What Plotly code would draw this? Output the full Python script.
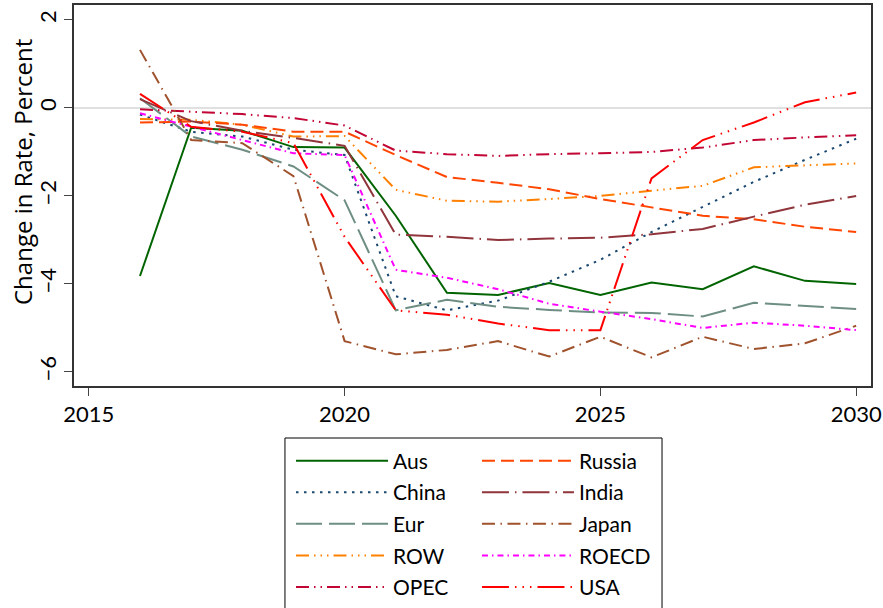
import plotly.graph_objects as go

years = list(range(2016, 2031))

aus    = [-3.82, -0.45, -0.52, -0.89, -0.90, -2.45, -4.20, -4.25, -3.98, -4.25, -3.97, -4.12, -3.60, -3.93, -4.00]
china  = [-0.15, -0.54, -0.65, -0.95, -1.07, -4.28, -4.60, -4.38, -3.95, -3.45, -2.82, -2.25, -1.68, -1.18, -0.70]
eur    = [0.22, -0.65, -0.95, -1.33, -2.10, -4.60, -4.36, -4.52, -4.59, -4.65, -4.66, -4.74, -4.43, -4.50, -4.57]
row    = [-0.25, -0.27, -0.38, -0.65, -0.64, -1.86, -2.11, -2.13, -2.07, -2.00, -1.88, -1.77, -1.35, -1.30, -1.26]
opec   = [-0.03, -0.08, -0.14, -0.23, -0.40, -0.97, -1.05, -1.09, -1.05, -1.03, -1.00, -0.90, -0.73, -0.67, -0.62]
russia = [-0.33, -0.31, -0.38, -0.54, -0.54, -1.07, -1.57, -1.70, -1.85, -2.07, -2.26, -2.45, -2.53, -2.70, -2.82]
india  = [0.20, -0.30, -0.52, -0.68, -0.86, -2.88, -2.93, -3.00, -2.97, -2.95, -2.87, -2.75, -2.47, -2.20, -2.00]
japan  = [1.32, -0.73, -0.80, -1.55, -5.30, -5.60, -5.50, -5.30, -5.65, -5.20, -5.67, -5.20, -5.48, -5.35, -4.95]
roecd  = [-0.12, -0.43, -0.73, -1.03, -1.07, -3.68, -3.86, -4.12, -4.45, -4.63, -4.80, -5.00, -4.88, -4.95, -5.05]
usa    = [0.32, -0.43, -0.54, -0.80, -2.93, -4.60, -4.70, -4.90, -5.05, -5.05, -1.60, -0.73, -0.33, 0.13, 0.35]

x_ticks = [2015, 2020, 2025, 2030]
y_ticks = [-6, -4, -2, 0, 2]
y_title = "Change in Rate, Percent"

# (name, values, colour, dash, legend column)
series = [
    ("Aus", aus, "#006400", "solid", "legend"),
    ("China", china, "#1a476f", "2.5px,5.5px", "legend"),
    ("Eur", eur, "#6e8e84", "26px,7px", "legend"),
    ("ROW", row, "#ff8000", "13px,5px,1.5px,5px,1.5px,5px,1.5px,5px", "legend"),
    ("OPEC", opec, "#c10534", "13px,5px,1.5px,5px,1.5px,5px", "legend"),
    ("Russia", russia, "#ff4500", "13px,6px", "legend2"),
    ("India", india, "#90353b", "27px,6px,1.5px,6px", "legend2"),
    ("Japan", japan, "#a0522d", "13px,5.5px,1.5px,5.5px", "legend2"),
    ("ROECD", roecd, "#ff00ff", "6px,4px,1.5px,4px", "legend2"),
    ("USA", usa, "#ff0000", "27px,6px,1.5px,6px,1.5px,6px,1.5px,6px", "legend2"),
]

fig = go.Figure()
for name, vals, color, dash, leg in series:
    fig.add_trace(go.Scatter(x=years, y=vals, name=name, mode="lines",
                             legend=leg, legendgroup=name,
                             line=dict(color=color, width=2, dash=dash)))

font_family = "Lato, 'Open Sans', sans-serif"

# plot area in pixels: x 74..871, y 5..386
leg_common = dict(
    orientation="v", yanchor="top", y=-0.1431, xanchor="left",
    borderwidth=0, bgcolor="rgba(0,0,0,0)",
    itemwidth=92, tracegroupgap=1.3, traceorder="grouped",
    font=dict(size=21, family=font_family, color="black"),
)

fig.update_layout(
    width=883, height=608,
    margin=dict(l=74, r=12, t=5, b=222, autoexpand=False),
    paper_bgcolor="white", plot_bgcolor="white",
    font=dict(family=font_family, size=22, color="black"),
    showlegend=True,
    legend=dict(x=0.2723, **leg_common),
    legend2=dict(x=0.5056, **leg_common),
    shapes=[dict(type="rect", xref="paper", yref="paper",
                 x0=0.2647, x1=0.7378, y0=-0.62, y1=-0.1365,
                 line=dict(color="black", width=1), fillcolor="rgba(0,0,0,0)",
                 layer="below")],
    annotations=[dict(text=y_title, textangle=-90, xref="paper", yref="paper",
                      x=(22 - 74) / 797, y=(386 - 172) / 381,
                      xanchor="center", yanchor="middle", showarrow=False,
                      font=dict(size=24, family="'Open Sans', Lato, sans-serif",
                                color="black"))],
    xaxis=dict(
        range=[2014.71, 2030.29], tickvals=x_ticks, ticks="outside", ticklen=8,
        tickcolor="#444", showgrid=False, zeroline=False, showline=True,
        linecolor="#333", linewidth=1.5, mirror=True, automargin=False,
        tickfont=dict(size=22),
    ),
    yaxis=dict(
        range=[-6.32, 2.34], tickvals=y_ticks, ticks="outside", ticklen=8,
        tickcolor="#444", showgrid=False, zeroline=True, zerolinecolor="#e0e0e0",
        zerolinewidth=2, showline=True, linecolor="#333", linewidth=1.5, mirror=True,
        tickangle=-90, tickfont=dict(size=22), automargin=False,
        ticklabelstandoff=-1,
    ),
)

fig.write_html("out.html", config={"displayModeBar": False},
               post_script="document.body.style.margin='0';")
